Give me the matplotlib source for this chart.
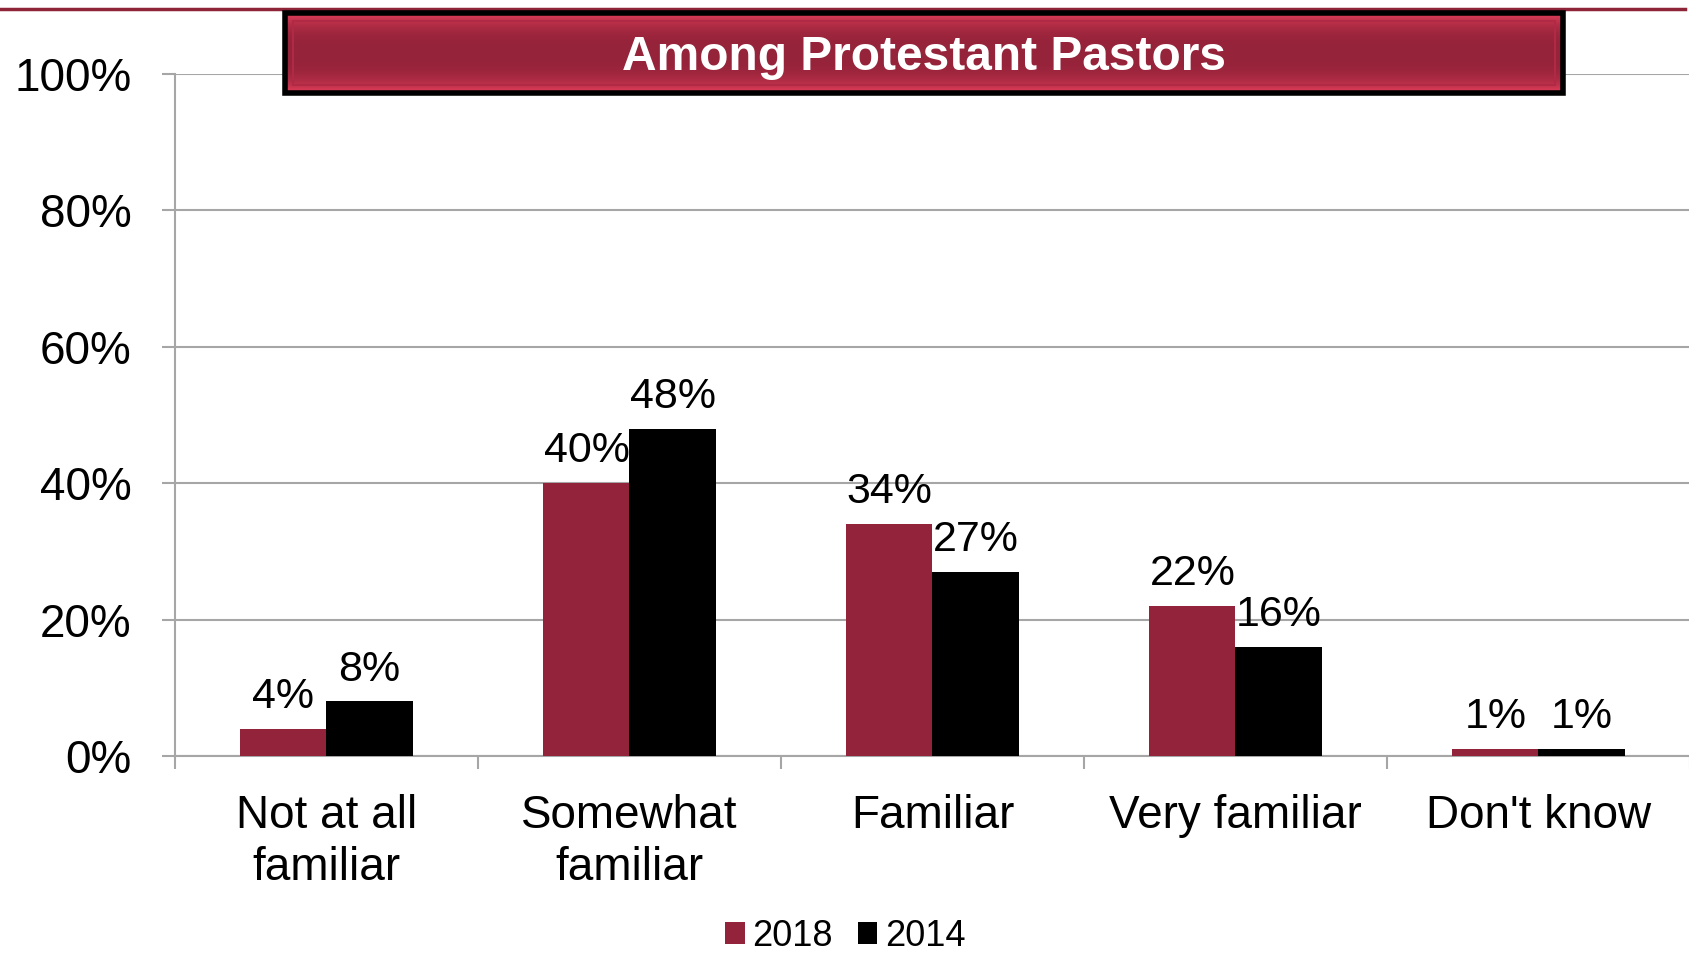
import numpy as np
import matplotlib.pyplot as plt
from matplotlib.patches import Rectangle, Patch
from matplotlib.lines import Line2D

plt.rcParams['font.family'] = ['Liberation Sans', 'DejaVu Sans']

# datos
categorias = ['Not at all\nfamiliar', 'Somewhat\nfamiliar', 'Familiar', 'Very familiar', "Don't know"]
valores_2018 = [4, 40, 34, 22, 1]
valores_2014 = [8, 48, 27, 16, 1]
series = ['2018', '2014']
titulo = 'Among Protestant Pastors'

rojo = '#92233A'
gris = '#A6A6A6'

fig = plt.figure(figsize=(16.9, 9.55), dpi=100)
ax = fig.add_axes([175 / 1690, 1 - 756 / 955, 1 - 175 / 1690, (756 - 74) / 955])

x = np.arange(len(categorias))
ancho = 0.284
b1 = ax.bar(x - ancho / 2, valores_2018, ancho, color=rojo, zorder=3)
b2 = ax.bar(x + ancho / 2, valores_2014, ancho, color='black', zorder=3)

# etiquetas de datos
for barras, vals in [(b1, valores_2018), (b2, valores_2014)]:
    for r, v in zip(barras, vals):
        ax.annotate(f'{v}%', (r.get_x() + r.get_width() / 2, v), xytext=(0, 15),
                    textcoords='offset points', ha='center', va='baseline', fontsize=31)

ax.set_xlim(-0.5, len(categorias) - 0.5)
ax.set_ylim(0, 100)
ax.set_yticks([0, 20, 40, 60, 80, 100])
ax.set_yticklabels([f'{t}%' for t in [0, 20, 40, 60, 80, 100]], fontsize=33)
ax.tick_params(axis='y', length=9.4, width=1.5, color=gris, pad=22)

# ticks en los limites de grupo, etiquetas en el centro
ax.set_xticks(np.arange(len(categorias) + 1) - 0.5)
ax.set_xticklabels([])
ax.tick_params(axis='x', which='major', length=9.4, width=1.5, color=gris)
ax.set_xticks(x, categorias, minor=True)
ax.tick_params(axis='x', which='minor', length=0, pad=27, labelsize=33)
for t in ax.get_xticklabels(minor=True):
    t.set_linespacing(1.25)

ax.grid(axis='y', color=gris, linewidth=1.5, zorder=0)
ax.set_axisbelow(True)
for s in ['top', 'right']:
    ax.spines[s].set_visible(False)
ax.spines['left'].set_color(gris)
ax.spines['bottom'].set_color(gris)
ax.spines['left'].set_linewidth(1.5)
ax.spines['bottom'].set_linewidth(1.5)

# linea roja superior
fig.add_artist(Line2D([0, 1685 / 1690], [1 - 9.5 / 955, 1 - 9.5 / 955], color='#8E2438',
                      linewidth=2.5, transform=fig.transFigure))

# caja del titulo con degradado
cax = fig.add_axes([285 / 1690, 1 - 93 / 955, (1563 - 285) / 1690, 80 / 955], zorder=5)
cax.set_xlim(0, 1)
cax.set_ylim(0, 1)
cax.axis('off')
t = np.linspace(0, 1, 200)
perfil = np.clip(np.abs(t - 0.5) * 2, 0, 1) ** 3
c_osc = np.array([0x95, 0x23, 0x3A]) / 255
c_cla = np.array([0xE8, 0x40, 0x5C]) / 255
grad = c_osc[None, :] + perfil[:, None] * (c_cla - c_osc)[None, :]
cax.imshow(grad[:, None, :], aspect='auto', extent=[0, 1, 0, 1], zorder=1)
cax.add_patch(Rectangle((0, 0), 1, 1, fill=False, edgecolor='black', linewidth=4,
                        transform=cax.transAxes, clip_on=False, zorder=3))
cax.add_patch(Rectangle((0.006, 0.1), 0.988, 0.8, fill=False, edgecolor='#B02A45', linewidth=1.5,
                        zorder=2))
cax.text(0.5, 0.44, titulo, ha='center', va='center', color='white', fontsize=34.5,
         fontweight='bold', zorder=4)

# leyenda
manijas = [Patch(facecolor=rojo), Patch(facecolor='black')]
fig.legend(manijas, series, loc='center', bbox_to_anchor=(0.5, 1 - 936 / 955), ncol=2,
           frameon=False, fontsize=26, handlelength=0.55, handleheight=0.55,
           handletextpad=0.2, columnspacing=0.7, borderpad=0.2)

fig.savefig('out.png', dpi=100)
